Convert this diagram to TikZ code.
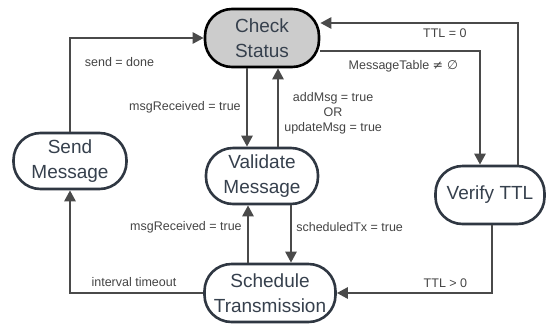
\documentclass[tikz,border=0pt]{standalone}
\usepackage{fontspec}
\setmainfont{Liberation Sans}
\newfontfamily\symfont{DejaVu Sans}
\usetikzlibrary{arrows.meta}

\definecolor{linegray}{HTML}{4A4A4A}
\definecolor{bordergray}{HTML}{2F3742}
\definecolor{textgray}{HTML}{36404D}
\definecolor{labelgray}{HTML}{444444}
\definecolor{checkgray}{HTML}{CCCCCC}

\begin{document}
\begin{tikzpicture}[x=1pt,y=-1pt,
	state/.style={draw=bordergray, line width=2.6pt, rounded corners=27pt, fill=white, text=textgray, align=center, font=\fontsize{19}{25}\selectfont, inner sep=0pt, minimum height=56pt},
	arr/.style={draw=linegray, line width=2.6pt, -{Triangle[length=11pt,width=11pt]}},
	lbl/.style={text=labelgray, font=\fontsize{12.5}{15}\selectfont, inner sep=0pt}]
					\useasboundingbox (0,0) rectangle (546,325);
					\node[state, fill=checkgray, draw=black, minimum width=114pt, minimum height=58pt](v1) at (262,38){Check\\Status};
					\node[state, minimum width=113pt](v2) at (70,161){Send\\Message};
					\node[state, minimum width=112pt](v3) at (262,176){Validate\\Message};
					\node[state, minimum width=109pt, minimum height=58pt](v4) at (490,195){Verify TTL};
					\node[state, minimum width=131pt, minimum height=58pt](v5) at (270,293){Schedule\\Transmission};
					\draw[arr] (v2.north) |- node[lbl, pos=0.685, below=18pt] {send = done} (v1.west);
					\draw[arr] ([xshift=-15pt]v1.south) -- node[lbl, pos=0.5, left=5pt] {msgReceived = true} ([xshift=-15pt]v3.north);
					\draw[arr] ([xshift=16pt]v3.north) -- node[lbl, pos=0.43, right=5pt, align=center] {addMsg = true\\OR\\updateMsg = true} ([xshift=16pt]v1.south);
					\draw[arr] ([yshift=-13pt]v1.east) -| node[lbl, pos=0.26, below=8pt] {MessageTable {\symfont ≠ ∅}} ([xshift=-10pt]v4.north);
					\draw[arr] ([xshift=28pt]v4.north) |- node[lbl, pos=0.685, below=4pt] {TTL = 0} ([yshift=15pt]v1.east);
					\draw[arr] ([xshift=2pt]v4.south) |- node[lbl, pos=0.65, above=4pt] {TTL > 0} (v5.east);
					\draw[arr] ([xshift=-22pt]v5.north) -- node[lbl, pos=0.62, left=5pt] {msgReceived = true} ([xshift=-14pt]v3.south);
					\draw[arr] ([xshift=29pt]v3.south) -- node[lbl, pos=0.38, right=4pt] {scheduledTx = true} ([xshift=21pt]v5.north);
					\draw[arr] (v5.west) -| node[lbl, pos=0.26, above=5pt] {interval timeout} (v2.south);
				\end{tikzpicture}
\end{document}
